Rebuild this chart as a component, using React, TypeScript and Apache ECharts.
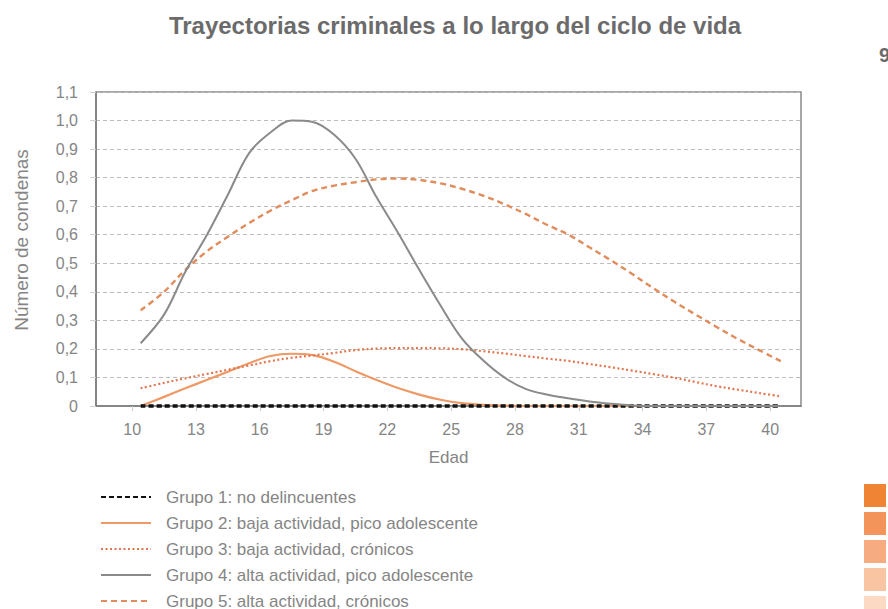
import React, { useEffect, useRef } from "react";
import * as echarts from "echarts";

const ages = [10.4, 11.5, 12.5, 13.5, 14.5, 15.5, 16.5, 17.5, 18.5, 19.5, 20.5, 21.5, 22.5, 23.5, 24.5, 25.5, 26.5, 27.5, 28.5, 29.5, 30.5, 31.5, 32.5, 33.5, 34.5, 35.5, 36.5, 37.5, 38.5, 39.5, 40.5];

const grupo1 = [0, 0, 0, 0, 0, 0, 0, 0, 0, 0, 0, 0, 0, 0, 0, 0, 0, 0, 0, 0, 0, 0, 0, 0, 0, 0, 0, 0, 0, 0, 0];
const grupo2 = [0, 0.032, 0.062, 0.091, 0.12, 0.15, 0.175, 0.183, 0.178, 0.155, 0.122, 0.091, 0.063, 0.04, 0.022, 0.01, 0.004, 0.001, 0, 0, 0, 0, 0, 0, 0, 0, 0, 0, 0, 0, 0];
const grupo3 = [0.062, 0.081, 0.097, 0.112, 0.127, 0.142, 0.157, 0.169, 0.177, 0.186, 0.196, 0.201, 0.203, 0.203, 0.202, 0.199, 0.192, 0.184, 0.175, 0.166, 0.158, 0.147, 0.136, 0.124, 0.112, 0.099, 0.084, 0.069, 0.057, 0.045, 0.034];
const grupo4 = [0.22, 0.32, 0.47, 0.597, 0.74, 0.886, 0.958, 1.0, 0.995, 0.95, 0.866, 0.73, 0.607, 0.477, 0.352, 0.237, 0.16, 0.1, 0.06, 0.04, 0.027, 0.016, 0.008, 0.002, 0, 0, 0, 0, 0, 0, 0];
const grupo5 = [0.335, 0.4, 0.477, 0.541, 0.593, 0.641, 0.684, 0.721, 0.754, 0.772, 0.784, 0.794, 0.797, 0.792, 0.78, 0.761, 0.737, 0.707, 0.673, 0.635, 0.601, 0.556, 0.511, 0.463, 0.413, 0.365, 0.32, 0.276, 0.234, 0.195, 0.157];

const xTicks = [10, 13, 16, 19, 22, 25, 28, 31, 34, 37, 40];

const seriesNames = [
  "Grupo 1: no delincuentes",
  "Grupo 2: baja actividad, pico adolescente",
  "Grupo 3: baja actividad, crónicos",
  "Grupo 4: alta actividad, pico adolescente",
  "Grupo 5: alta actividad, crónicos",
];

const title = "Trayectorias criminales a lo largo del ciclo de vida";
const yName = "Número de condenas";
const xName = "Edad";

const sideSquareColors = ["#EE8434", "#F3955A", "#F6AC80", "#F9C4A2", "#FBD9C2"];

const FONT = "Liberation Sans, Arial, Helvetica, sans-serif";

export default function App() {
  const ref = useRef<HTMLDivElement>(null);

  useEffect(() => {
    if (!ref.current) return;
    const chart = echarts.init(ref.current, undefined, { renderer: "svg" });
    const toPts = (vals: number[]) => ages.map((a, i) => [a, vals[i]]);

    const seriesDefs = [
      { vals: grupo1, color: "#111111", type: [5, 3], width: 3.4, z: 10 },
      { vals: grupo2, color: "#EE9966", type: "solid", width: 2.2, z: 5 },
      { vals: grupo3, color: "#E2764F", type: [2, 2.5], width: 2.2, z: 5 },
      { vals: grupo4, color: "#8a8a8a", type: "solid", width: 2, z: 11 },
      { vals: grupo5, color: "#E08C5C", type: [6, 4], width: 2.4, z: 5 },
    ];

    chart.setOption({
      animation: false,
      backgroundColor: "#ffffff",
      textStyle: { fontFamily: FONT },
      title: {
        text: title,
        left: 450,
        textAlign: "center",
        top: 8,
        textStyle: { fontSize: 24, fontWeight: "bold", color: "#6b6b6b", fontFamily: FONT },
      },
      grid: {
        left: 96,
        right: 87,
        top: 92,
        bottom: 203,
        show: true,
        borderColor: "#8a8a8a",
        borderWidth: 1.5,
        backgroundColor: "transparent",
      },
      legend: {
        orient: "vertical",
        left: 100,
        top: 488,
        height: 130,
        padding: 0,
        itemWidth: 50,
        itemHeight: 18,
        itemGap: 8,
        itemStyle: { opacity: 0 },
        textStyle: { fontSize: 17, lineHeight: 18, color: "#858585", fontFamily: FONT, padding: [0, 0, 0, 10] },
        data: seriesNames,
      },
      xAxis: {
        type: "value",
        min: 8.3,
        max: 41.45,
        z: 0,
        name: xName,
        nameLocation: "middle",
        nameGap: 43,
        nameTextStyle: { fontSize: 17, color: "#858585" },
        axisLine: { show: true, lineStyle: { color: "#7a7a7a", width: 1.5 } },
        axisTick: { show: true, customValues: xTicks, length: 5, lineStyle: { color: "#c8c8c8" } },
        axisLabel: { customValues: xTicks, margin: 15, fontSize: 16, color: "#858585" },
        splitLine: { show: false },
      },
      yAxis: {
        type: "value",
        min: 0,
        max: 1.1,
        interval: 0.1,
        z: 0,
        axisLine: { show: true, lineStyle: { color: "#7a7a7a", width: 1.5 } },
        axisTick: { show: true, length: 6, lineStyle: { color: "#d0d0d0" } },
        axisLabel: {
          margin: 18,
          fontSize: 16,
          color: "#858585",
          formatter: (v: number) => (v === 0 ? "0" : v.toFixed(1).replace(".", ",")),
        },
        splitLine: { show: true, lineStyle: { color: "#bdbdbd", type: [4, 3], width: 1 } },
      },
      series: seriesDefs.map((d, i) => ({
        name: seriesNames[i],
        type: "line",
        data: toPts(d.vals),
        smooth: 0.35,
        showSymbol: false,
        symbol: "none",
        clip: false,
        z: d.z,
        color: d.color,
        lineStyle: { color: d.color, width: d.width, type: d.type as any },
      })),
      graphic: [
        {
          type: "text",
          x: 21,
          y: 240,
          rotation: Math.PI / 2,
          style: {
            text: yName,
            fontSize: 19,
            fill: "#858585",
            fontFamily: FONT,
            align: "center",
            verticalAlign: "middle",
          },
        },
        {
          type: "text",
          left: 879,
          top: 45,
          style: { text: "9", fontSize: 20, fontWeight: "bold", fill: "#6b6b6b", fontFamily: FONT },
        },
        ...sideSquareColors.map((c, i) => ({
          type: "rect",
          shape: { x: 864, y: 484 + i * 28, width: 22, height: 23 },
          style: { fill: c },
        })),
      ],
    });
    return () => chart.dispose();
  }, []);

  return (
    <div
      ref={ref}
      style={{ position: "fixed", left: 0, top: 0, width: 888, height: 609, background: "#fff" }}
    />
  );
}
